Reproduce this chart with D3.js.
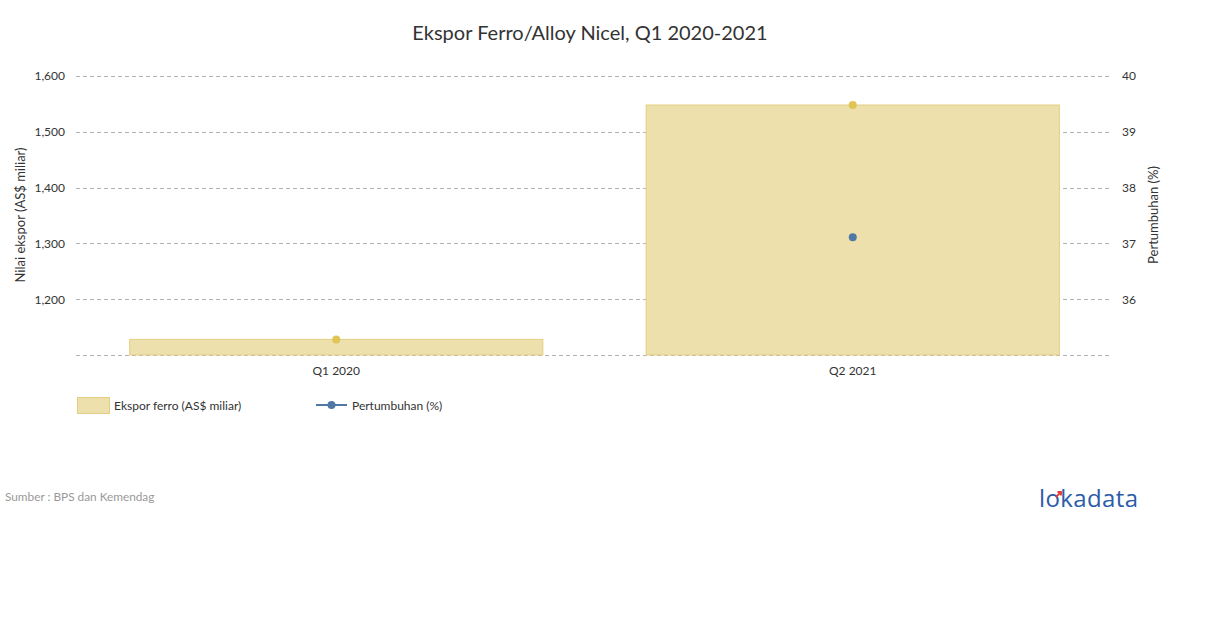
<!DOCTYPE html>
<html><head><meta charset="utf-8">
<script src="https://cdn.jsdelivr.net/npm/d3@7"></script>
<style>body{margin:0;background:#fff;font-family:Lato,"Open Sans",sans-serif;}</style>
</head><body><svg id="c" width="1210" height="628"></svg>
<script>
const categories = ["Q1 2020", "Q2 2021"];
const eksporValues = [1128, 1548];
const growthValues = [null, 37.11];
const leftTicks = [1200, 1300, 1400, 1500, 1600];
const rightTicks = [36, 37, 38, 39, 40];

const svg = d3.select("#c");
const font = "Lato, sans-serif";
const x = d3.scaleBand().domain(categories).range([78, 1111]).paddingInner(0.2).paddingOuter(0.1);
const yL = d3.scaleLinear().domain([1100, 1600]).range([355, 76]);
const yR = d3.scaleLinear().domain([35, 40]).range([355, 76]);

// title
svg.append("text").attr("x", 590).attr("y", 40).attr("text-anchor", "middle")
  .attr("font-family", font).attr("font-size", 20).attr("fill", "#333").text("Ekspor Ferro/Alloy Nicel, Q1 2020-2021");

// gridlines
const gridVals = [1100].concat(leftTicks);
svg.append("g").selectAll("line").data(gridVals).join("line")
  .attr("x1", 76).attr("x2", 1112).attr("y1", d => Math.round(yL(d)) + 0.5).attr("y2", d => Math.round(yL(d)) + 0.5)
  .attr("stroke", "#b3b3b3").attr("stroke-dasharray", "4,3").attr("stroke-width", 1);

// bars
svg.append("g").selectAll("rect").data(categories).join("rect")
  .attr("x", d => x(d)).attr("width", x.bandwidth())
  .attr("y", (d, i) => yL(eksporValues[i])).attr("height", (d, i) => yL(1100) - yL(eksporValues[i]))
  .attr("fill", "#eee0ad").attr("stroke", "#e3cf82").attr("stroke-width", 1);

// gold markers on bar tops
svg.append("g").selectAll("circle").data(categories).join("circle")
  .attr("cx", d => x(d) + x.bandwidth() / 2).attr("cy", (d, i) => yL(eksporValues[i])).attr("r", 4)
  .attr("fill", "#e0c455");

// growth dots
svg.append("g").selectAll("circle").data(categories.filter((d, i) => growthValues[i] != null)).join("circle")
  .attr("cx", d => x(d) + x.bandwidth() / 2).attr("cy", d => yR(growthValues[categories.indexOf(d)])).attr("r", 4)
  .attr("fill", "#4e79a7");

// left axis
const gl = svg.append("g").attr("transform", "translate(66,0)")
  .call(d3.axisLeft(yL).tickValues(leftTicks).tickSize(0).tickPadding(1).tickFormat(d3.format(",")));
gl.select(".domain").remove();
gl.selectAll("text").attr("font-family", font).attr("font-size", 12).attr("fill", "#333");

// right axis
const gr = svg.append("g").attr("transform", "translate(1120,0)")
  .call(d3.axisRight(yR).tickValues(rightTicks).tickSize(0).tickPadding(2).tickFormat(d3.format("d")));
gr.select(".domain").remove();
gr.selectAll("text").attr("font-family", font).attr("font-size", 12).attr("fill", "#333");

// x axis
const gx = svg.append("g").attr("transform", "translate(0,363)")
  .call(d3.axisBottom(x).tickSize(0).tickPadding(3));
gx.select(".domain").remove();
gx.selectAll("text").attr("font-family", font).attr("font-size", 12).attr("fill", "#333");

// axis titles
svg.append("text").attr("transform", "translate(25,215) rotate(-90)").attr("text-anchor", "middle")
  .attr("font-family", font).attr("font-size", 13).attr("fill", "#333").text("Nilai ekspor (AS$ miliar)");
svg.append("text").attr("transform", "translate(1158,215) rotate(-90)").attr("text-anchor", "middle")
  .attr("font-family", font).attr("font-size", 13).attr("fill", "#333").text("Pertumbuhan (%)");

// legend
const lg = svg.append("g");
lg.append("rect").attr("x", 77.5).attr("y", 397.5).attr("width", 32).attr("height", 16)
  .attr("fill", "#eee0ad").attr("stroke", "#e3cf82");
lg.append("text").attr("x", 114).attr("y", 410).attr("font-family", font).attr("font-size", 12).attr("fill", "#333").text("Ekspor ferro (AS$ miliar)");
lg.append("line").attr("x1", 316).attr("x2", 347).attr("y1", 405).attr("y2", 405).attr("stroke", "#4e79a7").attr("stroke-width", 2);
lg.append("circle").attr("cx", 331.5).attr("cy", 405).attr("r", 4).attr("fill", "#4e79a7");
lg.append("text").attr("x", 352).attr("y", 410).attr("font-family", font).attr("font-size", 12).attr("fill", "#333").text("Pertumbuhan (%)");

// source
svg.append("text").attr("x", 5).attr("y", 501).attr("font-family", font).attr("font-size", 11.8).attr("fill", "#999").text("Sumber : BPS dan Kemendag");

// logo
svg.append("text").attr("x", 1039).attr("y", 507).attr("font-family", "'Open Sans', sans-serif").attr("font-size", 24).attr("font-weight", 500)
  .attr("fill", "#2a5ca8").attr("letter-spacing", 0.4).text("lokadata");
svg.append("path").attr("d", "M1056,497 l5,-5 m-3.5,0 h3.5 v3.5").attr("stroke", "#e23b3b").attr("stroke-width", 1.8).attr("fill", "none");
</script></body></html>
